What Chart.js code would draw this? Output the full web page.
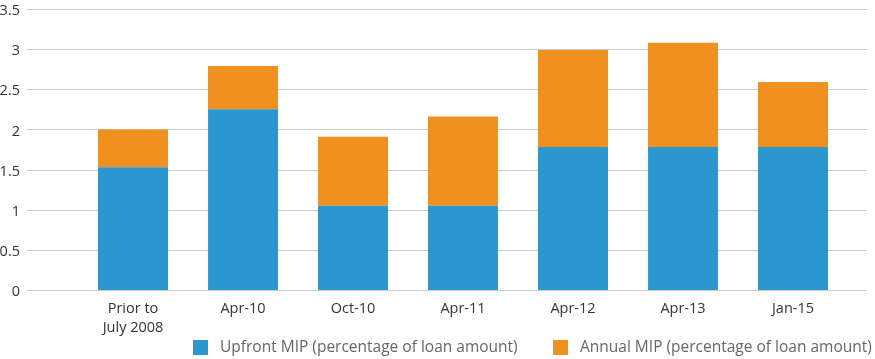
<!DOCTYPE html>
<html>
<head>
<meta charset="utf-8">
<script src="https://cdn.jsdelivr.net/npm/chart.js@4.4.1/dist/chart.umd.min.js"></script>
<style>
  html, body { margin: 0; padding: 0; background: #ffffff; }
  #wrap { position: relative; width: 875px; height: 359px; }
</style>
</head>
<body>
<div id="wrap"><canvas id="c" width="875" height="359"></canvas></div>
<script>
const categories = [["Prior to", "July 2008"], "Apr-10", "Oct-10", "Apr-11", "Apr-12", "Apr-13", "Jan-15"];
const upfrontMIP = [1.53, 2.25, 1.05, 1.05, 1.78, 1.78, 1.78];
const annualMIP = [0.47, 0.54, 0.86, 1.11, 1.21, 1.30, 0.81];
const yTicks = [0, 0.5, 1, 1.5, 2, 2.5, 3, 3.5];
const seriesNames = ["Upfront MIP (percentage of loan amount)", "Annual MIP (percentage of loan amount)"];

const FONT = "'Open Sans', sans-serif";

const wideGrid = {
  id: 'wideGrid',
  beforeDatasetsDraw(chart) {
    const y = chart.scales.y;
    const ctx = chart.ctx;
    ctx.save();
    ctx.strokeStyle = '#cccccc';
    ctx.lineWidth = 1;
    y.ticks.forEach(t => {
      const py = Math.round(y.getPixelForValue(t.value)) + 0.5;
      ctx.beginPath();
      ctx.moveTo(27, py);
      ctx.lineTo(867, py);
      ctx.stroke();
    });
    ctx.restore();
  }
};

const customLegend = {
  id: 'customLegend',
  afterDraw(chart) {
    const ctx = chart.ctx;
    const pos = [193, 553];
    ctx.save();
    ctx.font = "15.5px " + FONT;
    ctx.textBaseline = 'middle';
    chart.data.datasets.forEach((ds, i) => {
      ctx.fillStyle = ds.backgroundColor;
      ctx.fillRect(pos[i], 340, 15, 15);
      ctx.fillStyle = '#666666';
      ctx.fillText(ds.label, pos[i] + 27, 347.5);
    });
    ctx.restore();
  }
};

new Chart(document.getElementById('c'), {
  type: 'bar',
  data: {
    labels: categories,
    datasets: [
      { label: seriesNames[0], data: upfrontMIP, backgroundColor: '#2b97cf', borderWidth: 0 },
      { label: seriesNames[1], data: annualMIP, backgroundColor: '#ef901f', borderWidth: 0 }
    ]
  },
  options: {
    responsive: false,
    animation: false,
    devicePixelRatio: 1,
    layout: { padding: { top: 9, right: 27, left: 0, bottom: 0 } },
    datasets: { bar: { categoryPercentage: 1.0, barPercentage: 0.636 } },
    plugins: {
      legend: { display: false },
      tooltip: { enabled: false }
    },
    scales: {
      x: {
        stacked: true,
        grid: { display: false, drawTicks: false },
        border: { display: false },
        ticks: { color: '#333333', font: { family: FONT, size: 14.5, lineHeight: 1.35 }, padding: 9, maxRotation: 0 },
        afterFit(s) { s.height = 69; }
      },
      y: {
        stacked: true,
        min: 0,
        max: 3.5,
        afterBuildTicks(s) { s.ticks = yTicks.map(v => ({ value: v })); },
        grid: { display: false, drawTicks: false },
        border: { display: false },
        ticks: { color: '#333333', font: { family: FONT, size: 14.5 }, padding: 58, labelOffset: 2, callback: v => String(v) },
        afterFit(s) { s.width = 78; s.paddingTop = 0; s.paddingBottom = 0; }
      }
    }
  },
  plugins: [wideGrid, customLegend]
});
</script>
</body>
</html>
